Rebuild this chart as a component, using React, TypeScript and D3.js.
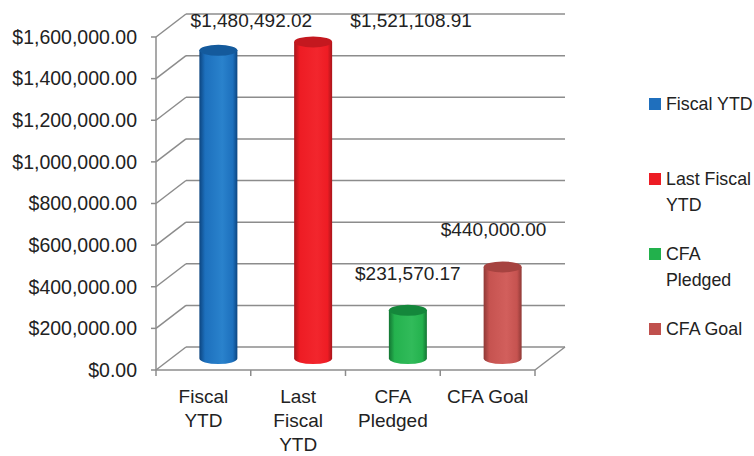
import * as React from "react";
import { format, range, scaleBand, scaleLinear } from "d3";

const categories = ["Fiscal YTD", "Last Fiscal YTD", "CFA Pledged", "CFA Goal"];
const axisLabels = [["Fiscal", "YTD"], ["Last", "Fiscal", "YTD"], ["CFA", "Pledged"], ["CFA Goal"]];
const legendLabels = [["Fiscal YTD"], ["Last Fiscal", "YTD"], ["CFA", "Pledged"], ["CFA Goal"]];
const values = [1480492.02, 1521108.91, 231570.17, 440000.0];
const yTicks = range(0, 1600001, 200000);

const palette = [
  { edge: "#0c4580", mid: "#1d70bd", hi: "#2a82cc", top: "#145a9c", key: "#1f6fbd" },
  { edge: "#a8151b", mid: "#ee1c24", hi: "#f2262d", top: "#c4181f", key: "#ed1c24" },
  { edge: "#137533", mid: "#24b24e", hi: "#31bb5a", top: "#14873b", key: "#22b14c" },
  { edge: "#8f3936", mid: "#c65350", hi: "#d25f5c", top: "#a64340", key: "#c0504d" },
];
// label nudges where Excel pushed the top labels sideways
const labelNudge = [33, 98, 0, -9];

const W = 754;
const H = 456;
const dx = 30;
const dy = -23;
const font = "'Liberation Sans', Arial, sans-serif";

export default function App() {
  const y = scaleLinear().domain([0, 1600000]).range([370, 37]);
  const x = scaleBand().domain(categories).range([156, 535]);
  const fmt = format("$,.2f");
  const grid = "#8c8c8c";
  const rx = 19;
  const ry = 5.5;

  return (
    <svg width={W} height={H} style={{ position: "absolute", left: 0, top: 0, fontFamily: font }}>
      <defs>
        {palette.map((p, i) => (
          <linearGradient key={i} id={`cyl${i}`} x1="0" x2="1" y1="0" y2="0">
            <stop offset="0" stopColor={p.edge} />
            <stop offset="0.15" stopColor={p.mid} />
            <stop offset="0.6" stopColor={p.hi} />
            <stop offset="0.88" stopColor={p.mid} />
            <stop offset="1" stopColor={p.edge} />
          </linearGradient>
        ))}
      </defs>

      {/* back wall gridlines and side wall diagonals */}
      {yTicks.map((t) => (
        <g key={t} stroke={grid} strokeWidth={1.5} fill="none">
          <line x1={156 + dx} x2={535 + dx} y1={y(t) + dy} y2={y(t) + dy} />
          <line x1={156} x2={156 + dx} y1={y(t)} y2={y(t) + dy} />
          <line x1={151} x2={156} y1={y(t)} y2={y(t)} />
        </g>
      ))}
      <line x1={156} x2={156} y1={y(1600000)} y2={y(0)} stroke={grid} strokeWidth={1.5} />
      {/* floor */}
      <line x1={156} x2={535} y1={y(0)} y2={y(0)} stroke={grid} strokeWidth={1.5} />
      <line x1={535} x2={535 + dx} y1={y(0)} y2={y(0) + dy} stroke={grid} strokeWidth={1.5} />
      {range(categories.length + 1).map((i) => {
        const xx = 156 + i * x.bandwidth();
        return <line key={i} x1={xx} x2={xx} y1={y(0)} y2={y(0) + 6} stroke={grid} strokeWidth={1.5} />;
      })}

      {/* y tick labels */}
      {yTicks.map((t) => (
        <text key={t} x={137} y={y(t)} dy="0.35em" textAnchor="end" fontSize={19.5} fill="#222">
          {fmt(t)}
        </text>
      ))}

      {/* cylinders */}
      {values.map((v, i) => {
        const cx = (x(categories[i]) as number) + x.bandwidth() / 2 + dx / 2;
        const yb = y(0) + dy / 2;
        const yt = y(v) + dy / 2;
        const p = palette[i];
        const body = `M${cx - rx},${yt} L${cx - rx},${yb} A${rx},${ry} 0 0 0 ${cx + rx},${yb} L${cx + rx},${yt} Z`;
        const ly = Math.max(27, yt - ry - 25);
        return (
          <g key={i}>
            <path d={body} fill={`url(#cyl${i})`} />
            <ellipse cx={cx} cy={yt} rx={rx} ry={ry} fill={p.top} />
            <text x={cx + labelNudge[i]} y={ly} textAnchor="middle" fontSize={19} fill="#222">
              {fmt(v)}
            </text>
          </g>
        );
      })}

      {/* category labels */}
      {axisLabels.map((lines, i) => {
        const cx = (x(categories[i]) as number) + x.bandwidth() / 2;
        return (
          <text key={i} textAnchor="middle" fontSize={19} fill="#222">
            {lines.map((s, j) => (
              <tspan key={j} x={cx} y={403 + j * 24}>
                {s}
              </tspan>
            ))}
          </text>
        );
      })}

      {/* legend */}
      {legendLabels.map((lines, i) => {
        const ly = 104 + i * 75;
        return (
          <g key={i}>
            <rect x={649} y={ly - 6} width={12} height={12} fill={palette[i].key} />
            <text fontSize={17.8} fill="#222">
              {lines.map((s, j) => (
                <tspan key={j} x={666} y={ly + j * 26} dy="0.35em">
                  {s}
                </tspan>
              ))}
            </text>
          </g>
        );
      })}
    </svg>
  );
}
